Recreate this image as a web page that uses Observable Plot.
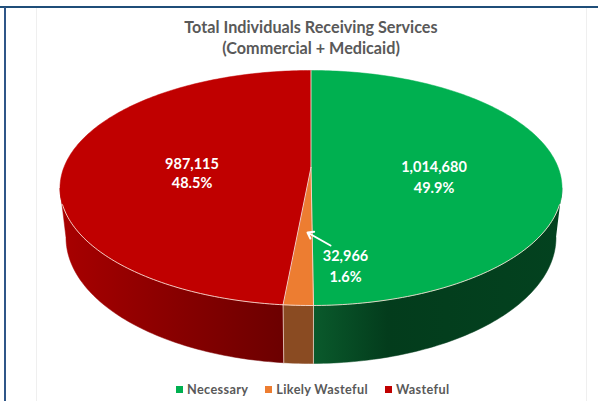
<!DOCTYPE html>
<html>
<head>
<meta charset="utf-8">
<script src="https://cdn.jsdelivr.net/npm/d3@7"></script>
<script src="https://cdn.jsdelivr.net/npm/@observablehq/plot@0.6"></script>
<style>
  html, body { margin: 0; padding: 0; background: #fff; width: 598px; height: 401px; overflow: hidden; }
  body { position: relative; font-family: Lato, sans-serif; }
  .rule-top { position: absolute; left: 0; right: 0; top: 6px; height: 2px; background: #1f4e79; }
  .rule-left { position: absolute; left: 4px; top: 7px; bottom: 0; width: 2px; background: #2f5688; }
  .panel { position: absolute; left: 36px; top: 8px; width: 549px; bottom: 0; border-left: 1px solid #efefef; border-right: 1px solid #efefef; }
  #title { position: relative; height: 64px; box-sizing: border-box; padding-top: 16px; padding-left: 24px; text-align: center; color: #595959; font-weight: 700; font-size: 16.2px; line-height: 21px; }
  #chart { position: relative; height: 306px; }
  #chart svg { display: block; background: transparent; }
  #legend { position: relative; display: flex; align-items: center; height: 18px; margin-top: 10px; padding-left: 176px; color: #595959; font-weight: 700; font-size: 12.7px; letter-spacing: 0.35px; }
  #legend i { display: inline-block; width: 7px; height: 7px; margin-right: 4px; }
  #legend span { margin-right: 17px; white-space: nowrap; }
</style>
</head>
<body>
<div class="rule-top"></div>
<div class="rule-left"></div>
<div class="panel"></div>
<div id="title">Total Individuals Receiving Services<br>(Commercial + Medicaid)</div>
<div id="chart"></div>
<div id="legend"></div>
<script>
// Slice data, clockwise from twelve o'clock
const categories = ["Necessary", "Likely Wasteful", "Wasteful"];
const counts = [1014680, 32966, 987115];
const shares = ["49.9%", "1.6%", "48.5%"];
const topColors = ["#00b050", "#ed7d31", "#c00000"];
const sideFills = ["url(#sideGreen)", "#8a4b22", "url(#sideRed)"];

// Where each label sits, in page pixels
const labelX = [433.5, 345, 191.5];
const labelCountY = [167, 256, 164];
const labelShareY = [188, 277, 183];

// Disc outline for a tilted, slightly foreshortened view
const centerX = 310.5;
const tilt = -0.1745;
const topFace = {halfWidth: 251, yTop: 70, yBottom: 305};
const baseFace = {halfWidth: 245, yTop: 111, yBottom: 363};

// Perspective projection of a unit-circle point onto an outline
function project(face, angle, radius = 1) {
  const u = radius * Math.sin(angle);
  const v = -radius * Math.cos(angle);
  const k = face.halfWidth * Math.sqrt(1 - tilt * tilt);
  const b = (face.yTop + face.yBottom) / 2 + (face.yBottom - face.yTop) / 2 * tilt;
  const a = face.yBottom * (1 + tilt) - b;
  const w = 1 + tilt * v;
  return {x: centerX + k * u / w, y: (a * v + b) / w};
}

const arcSteps = (from, to) => {
  const n = Math.max(2, Math.ceil(Math.abs(to - from) / (Math.PI / 180)));
  return d3.range(n + 1).map((i) => from + (to - from) * i / n);
};

// Slice start and end angles from the counts
const total = d3.sum(counts);
const boundaries = [0];
counts.forEach((c, i) => boundaries.push(boundaries[i] + c / total * 2 * Math.PI));

const frontStart = Math.PI * 0.556;  // right-hand edge of the visible wall
const frontEnd = Math.PI * 1.444;    // left-hand edge of the visible wall

const topPolys = [];
const sidePolys = [];
categories.forEach((name, i) => {
  const a0 = boundaries[i], a1 = boundaries[i + 1];
  topPolys.push({fill: topColors[i], points: [
    {name, ...project(topFace, 0, 0)},
    ...arcSteps(a0, a1).map((t) => ({name, ...project(topFace, t)}))
  ]});
  const s0 = Math.max(a0, frontStart), s1 = Math.min(a1, frontEnd);
  sidePolys.push({fill: sideFills[i], points: [
    ...arcSteps(s0, s1).map((t) => ({name, ...project(topFace, t)})),
    ...arcSteps(s1, s0).map((t) => ({name, ...project(baseFace, t)}))
  ]});
});

const edgeColor = "#f6dcd2";
const rimPoints = arcSteps(Math.PI * 0.6, Math.PI * 1.4).map((t) => project(topFace, t));
const spokes = boundaries.slice(0, 3).map((t) => [project(topFace, 0, 0), project(topFace, t)]);
const walls = boundaries.slice(1, 3).map((t) => [project(topFace, t), project(baseFace, t)]);

const gradients = () => d3.create("svg:defs").html(`
  <linearGradient id="sideRed" x1="0" x2="1" y1="0" y2="0">
    <stop offset="0" stop-color="#a80000"/>
    <stop offset="0.45" stop-color="#8c0000"/>
    <stop offset="1" stop-color="#6c0000"/>
  </linearGradient>
  <linearGradient id="sideGreen" x1="0" x2="1" y1="0" y2="0">
    <stop offset="0" stop-color="#0a5a2c"/>
    <stop offset="0.3" stop-color="#033c1c"/>
    <stop offset="1" stop-color="#03421f"/>
  </linearGradient>`).node();

const polyMark = (p) => Plot.line(p.points, {x: "x", y: "y", fill: p.fill, stroke: p.fill, strokeWidth: 0.5, curve: "linear"});
const edgeMark = (pts, opacity = 0.9) => Plot.line(pts, {x: "x", y: "y", stroke: edgeColor, strokeWidth: 1, strokeOpacity: opacity, curve: "linear"});

const labels = categories.map((c, i) => ({
  x: labelX[i], yCount: labelCountY[i], yShare: labelShareY[i],
  count: d3.format(",")(counts[i]), share: shares[i]
}));
const textStyle = {fill: "#fff", fontSize: 14.5, fontWeight: 700, fontFamily: "Lato, sans-serif", textAnchor: "middle"};

const chart = Plot.plot({
  width: 598,
  height: 306,
  margin: 0,
  x: {domain: [0, 598], range: [0, 598], axis: null},
  y: {domain: [64, 370], range: [0, 306], axis: null},
  style: {background: "transparent"},
  marks: [
    gradients,
    ...sidePolys.map(polyMark),
    ...topPolys.map(polyMark),
    ...spokes.map((s) => edgeMark(s)),
    ...walls.map((s) => edgeMark(s, 0.75)),
    edgeMark(rimPoints),
    Plot.text(labels, {x: "x", y: "yCount", text: "count", ...textStyle}),
    Plot.text(labels, {x: "x", y: "yShare", text: "share", ...textStyle}),
    Plot.arrow([{x1: 330, y1: 245, x2: 307, y2: 232}], {
      x1: "x1", y1: "y1", x2: "x2", y2: "y2",
      stroke: "#fff", strokeWidth: 2, headLength: 5, headAngle: 70, bend: 0
    })
  ]
});
document.getElementById("chart").append(chart);

// Legend row under the chart
const legend = document.getElementById("legend");
categories.forEach((name, i) => {
  const swatch = document.createElement("i");
  swatch.style.background = topColors[i];
  const text = document.createElement("span");
  text.textContent = name;
  legend.append(swatch, text);
});
</script>
</body>
</html>
